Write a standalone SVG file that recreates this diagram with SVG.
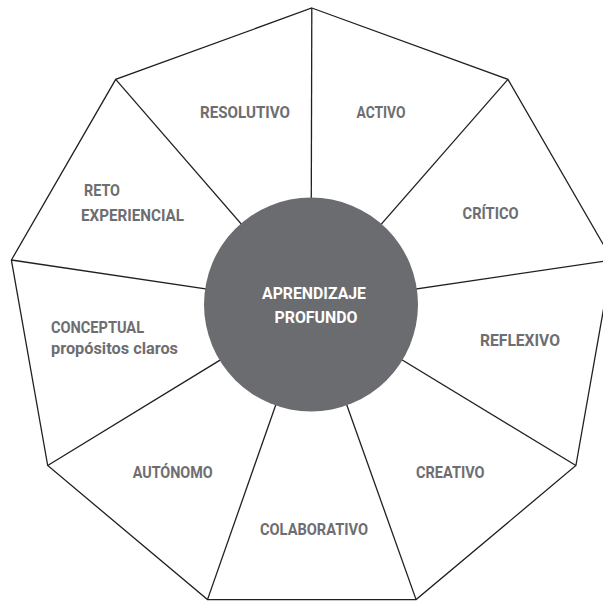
<svg xmlns="http://www.w3.org/2000/svg" width="603" height="601" viewBox="0 0 603 601">
  <style>
    .edge { fill: none; stroke: #231f20; stroke-width: 1.3; stroke-linejoin: miter; }
    .lbl { font-family: Roboto, "Liberation Sans", sans-serif; font-weight: 700; font-size: 16px; fill: #6d6e71; }
    .mid { text-anchor: middle; }
    .hub { fill: #6b6c70; }
    .hubtxt { font-family: Roboto, "Liberation Sans", sans-serif; font-weight: 700; font-size: 16px; fill: #ffffff; text-anchor: middle; }
  </style>
  <rect width="603" height="601" fill="#ffffff"/>

  <!-- outer nonagon -->
  <g id="outline">
    <polygon class="edge" points="311.8,8 507.9,79.4 612.2,260 575.9,465.5 416.1,599.6 207.5,599.6 47.7,465.5 11.4,260 115.7,79.4"/>
  </g>

  <!-- spokes from each corner to the hub -->
  <g id="connectors">
    <line class="edge" x1="311.8" y1="8" x2="311" y2="304.5"/>
    <line class="edge" x1="507.9" y1="79.4" x2="311" y2="304.5"/>
    <line class="edge" x1="612.2" y1="260" x2="311" y2="304.5"/>
    <line class="edge" x1="575.9" y1="465.5" x2="311" y2="304.5"/>
    <line class="edge" x1="416.1" y1="599.6" x2="311" y2="304.5"/>
    <line class="edge" x1="207.5" y1="599.6" x2="311" y2="304.5"/>
    <line class="edge" x1="47.7" y1="465.5" x2="311" y2="304.5"/>
    <line class="edge" x1="11.4" y1="260" x2="311" y2="304.5"/>
    <line class="edge" x1="115.7" y1="79.4" x2="311" y2="304.5"/>
  </g>

  <g id="hub">
    <circle class="hub" cx="311" cy="304.5" r="107"/>
    <text class="hubtxt" x="314" y="299" textLength="104" lengthAdjust="spacingAndGlyphs">APRENDIZAJE</text>
    <text class="hubtxt" x="316" y="323" textLength="83" lengthAdjust="spacingAndGlyphs">PROFUNDO</text>
  </g>

  <g id="resolutivo"><text class="lbl mid" x="245" y="118" textLength="90" lengthAdjust="spacingAndGlyphs">RESOLUTIVO</text></g>
  <g id="activo"><text class="lbl mid" x="381" y="118" textLength="49" lengthAdjust="spacingAndGlyphs">ACTIVO</text></g>
  <g id="critico"><text class="lbl mid" x="490.6" y="218.5" textLength="56" lengthAdjust="spacingAndGlyphs">CRÍTICO</text></g>
  <g id="reflexivo"><text class="lbl mid" x="520" y="346" textLength="80" lengthAdjust="spacingAndGlyphs">REFLEXIVO</text></g>
  <g id="creativo"><text class="lbl mid" x="450.3" y="478" textLength="68.5" lengthAdjust="spacingAndGlyphs">CREATIVO</text></g>
  <g id="colaborativo"><text class="lbl mid" x="314" y="534.5" textLength="108" lengthAdjust="spacingAndGlyphs">COLABORATIVO</text></g>
  <g id="autonomo"><text class="lbl mid" x="172.7" y="478" textLength="80" lengthAdjust="spacingAndGlyphs">AUTÓNOMO</text></g>
  <g id="conceptual">
    <text class="lbl" x="51" y="332.5" textLength="93" lengthAdjust="spacingAndGlyphs">CONCEPTUAL</text>
    <text class="lbl" x="51" y="354" textLength="127" lengthAdjust="spacingAndGlyphs">propósitos claros</text>
  </g>
  <g id="reto">
    <text class="lbl" x="84" y="196" textLength="36" lengthAdjust="spacingAndGlyphs">RETO</text>
    <text class="lbl" x="81" y="220.5" textLength="103" lengthAdjust="spacingAndGlyphs">EXPERIENCIAL</text>
  </g>
</svg>
